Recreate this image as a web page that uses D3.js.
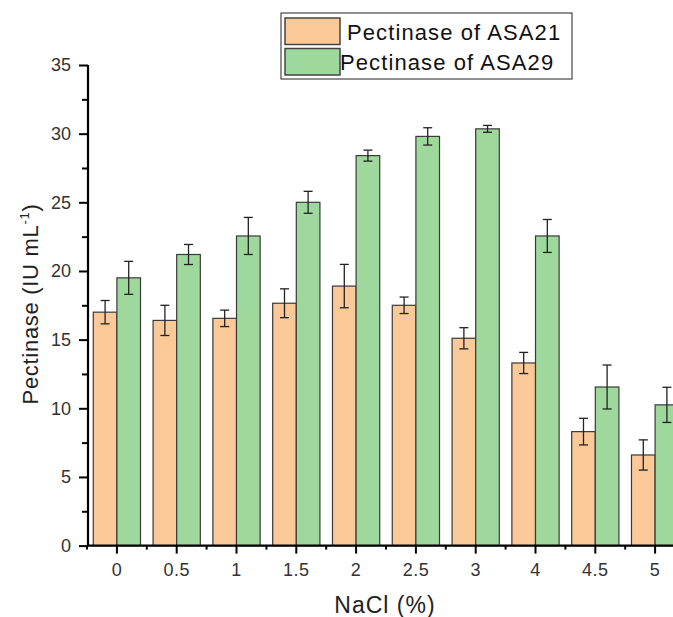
<!DOCTYPE html>
<html>
<head>
<meta charset="utf-8">
<script src="https://cdn.jsdelivr.net/npm/d3@7"></script>
<style>
  body { margin: 0; background: #fff; }
  text { font-family: "Liberation Sans", Arial, sans-serif; }
</style>
</head>
<body>
<div id="chart"></div>
<script>
var categories = ["0", "0.5", "1", "1.5", "2", "2.5", "3", "4", "4.5", "5"];
var seriesNames = ["Pectinase of ASA21", "Pectinase of ASA29"];
var asa21 = [17.0, 16.4, 16.55, 17.65, 18.9, 17.5, 15.1, 13.3, 8.3, 6.6];
var asa21Err = [0.85, 1.1, 0.6, 1.05, 1.58, 0.6, 0.77, 0.77, 0.97, 1.1];
var asa29 = [19.5, 21.2, 22.55, 25.0, 28.4, 29.8, 30.35, 22.55, 11.55, 10.25];
var asa29Err = [1.2, 0.73, 1.35, 0.8, 0.4, 0.63, 0.25, 1.2, 1.6, 1.28];
var yTicks = [0, 5, 10, 15, 20, 25, 30, 35];
var colors = ["#fbc897", "#9ed89c"];

var width = 673, height = 617;
var margin = {top: 65, left: 88, bottom: 71};

const svg = d3.select("#chart")
    .append("svg")
    .attr("width", width)
    .attr("height", height);

const x = d3.scaleBand()
    .domain(categories)
    .range([margin.left - 1, margin.left - 1 + 59.8 * categories.length])
    .paddingInner(0.21)
    .paddingOuter(0.105);

const x1 = d3.scaleBand()
    .domain([0, 1])
    .range([0, x.bandwidth()]);

const y = d3.scaleLinear()
    .domain([0, 35])
    .range([height - margin.bottom - 0.4, margin.top]);

var series = [
    {values: asa21, errs: asa21Err},
    {values: asa29, errs: asa29Err}
];

// bars
series.forEach((s, si) => {
    svg.append("g").selectAll("rect")
        .data(s.values)
        .join("rect")
        .attr("x", (d, i) => x(categories[i]) + x1(si))
        .attr("y", d => y(d))
        .attr("width", x1.bandwidth())
        .attr("height", d => y(0) - y(d))
        .attr("fill", colors[si])
        .attr("stroke", "#3a3a3a")
        .attr("stroke-width", 1.2);
});

// error bars
series.forEach((s, si) => {
    const g = svg.append("g").attr("stroke", "#222").attr("stroke-width", 1.3);
    s.values.forEach((v, i) => {
        const cx = x(categories[i]) + x1(si) + x1.bandwidth() / 2;
        const top = y(v + s.errs[i]), bot = y(v - s.errs[i]);
        g.append("line").attr("x1", cx).attr("x2", cx).attr("y1", top).attr("y2", bot);
        g.append("line").attr("x1", cx - 4.5).attr("x2", cx + 4.5).attr("y1", top).attr("y2", top);
        g.append("line").attr("x1", cx - 4.5).attr("x2", cx + 4.5).attr("y1", bot).attr("y2", bot);
    });
});

// y axis
const yAxis = svg.append("g")
    .attr("transform", `translate(${margin.left},0)`)
    .call(d3.axisLeft(y).tickValues(yTicks).tickSize(9).tickPadding(8).tickFormat(d3.format("d")));
yAxis.select(".domain").attr("stroke-width", 2.2).attr("d", `M0,${y(0) + 1}V${y(35)}`);
yAxis.selectAll(".tick line").attr("stroke-width", 2);
yAxis.selectAll(".tick text").attr("font-size", 18).attr("fill", "#333");
svg.append("g")
    .attr("transform", `translate(${margin.left},0)`)
    .call(d3.axisLeft(y).tickValues(d3.range(2.5, 35, 5)).tickSize(6).tickFormat(""))
    .call(g => g.select(".domain").remove())
    .selectAll(".tick line").attr("stroke-width", 2);

// x axis
const xAxis = svg.append("g")
    .attr("transform", `translate(0,${y(0)})`)
    .call(d3.axisBottom(x).tickSize(8).tickPadding(10));
xAxis.select(".domain").attr("stroke-width", 2.2)
    .attr("d", `M${margin.left - 1},0H${width + 20}`);
xAxis.selectAll(".tick line").attr("stroke-width", 2);
xAxis.selectAll(".tick text").attr("font-size", 18).attr("fill", "#333").attr("letter-spacing", 0.5);
const step = x.step();
svg.append("g").selectAll("line")
    .data(categories)
    .join("line")
    .attr("x1", (d, i) => x(d) + x.bandwidth() / 2 - step / 2)
    .attr("x2", (d, i) => x(d) + x.bandwidth() / 2 - step / 2)
    .attr("y1", y(0))
    .attr("y2", y(0) + 4)
    .attr("stroke", "#000")
    .attr("stroke-width", 2);

// axis titles
svg.append("text")
    .text("NaCl (%)")
    .attr("x", 385)
    .attr("y", 613)
    .attr("text-anchor", "middle")
    .attr("font-size", 23)
    .attr("letter-spacing", 1)
    .attr("fill", "#222");

const yt = svg.append("text")
    .attr("transform", "translate(38,304) rotate(-90)")
    .attr("text-anchor", "middle")
    .attr("font-size", 22)
    .attr("letter-spacing", 0.7)
    .attr("fill", "#222");
yt.append("tspan").text("Pectinase (IU mL");
yt.append("tspan").text("-1").attr("font-size", 13).attr("dy", -9);
yt.append("tspan").text(")").attr("dy", 9);

// legend
const legend = svg.append("g");
legend.append("rect")
    .attr("x", 281).attr("y", 13)
    .attr("width", 291).attr("height", 66)
    .attr("fill", "#fff").attr("stroke", "#222").attr("stroke-width", 1);
seriesNames.forEach((name, i) => {
    legend.append("rect")
        .attr("x", 285).attr("y", 18 + i * 30.5)
        .attr("width", 55).attr("height", 26.5)
        .attr("fill", colors[i])
        .attr("stroke", "#444").attr("stroke-width", 1.5);
    legend.append("text")
        .text(name)
        .attr("x", i === 0 ? 347 : 340)
        .attr("y", 39.5 + i * 30)
        .attr("font-size", 22)
        .attr("letter-spacing", 1.1)
        .attr("fill", "#111");
});
</script>
</body>
</html>
